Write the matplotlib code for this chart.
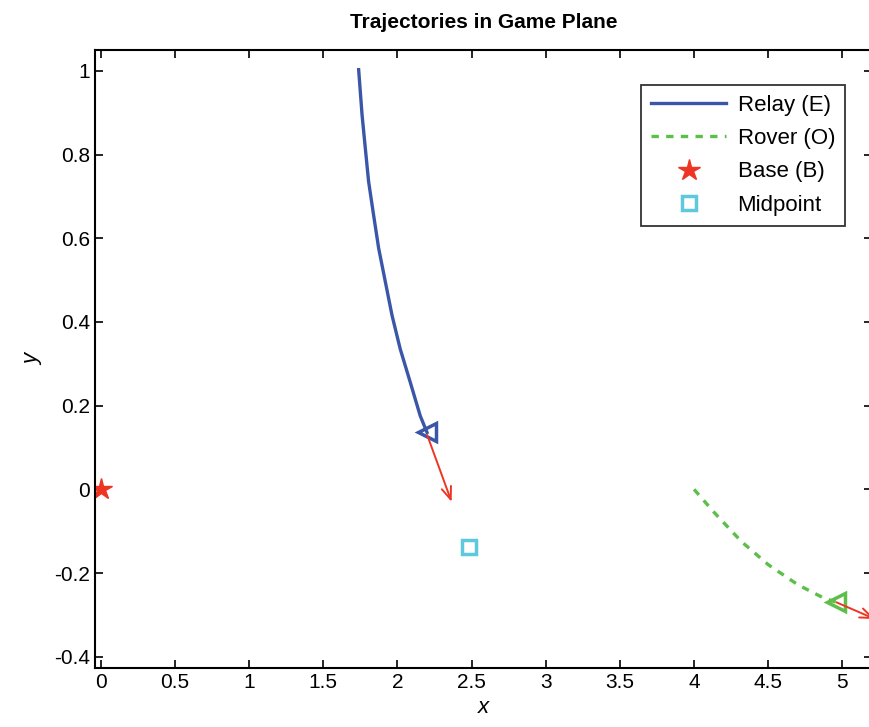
import numpy as np
import matplotlib.pyplot as plt

# datos
relay_x = [1.738, 1.761, 1.783, 1.805, 1.839, 1.873, 1.918, 1.963, 2.018, 2.086, 2.153, 2.199]
relay_y = [1.003, 0.895, 0.815, 0.736, 0.655, 0.576, 0.496, 0.416, 0.336, 0.256, 0.176, 0.136]

rover_x = [4.00, 4.135, 4.32, 4.50, 4.70, 4.87, 4.96]
rover_y = [0.00, -0.055, -0.125, -0.18, -0.228, -0.259, -0.27]

# flechas de velocidad (inicio -> fin)
relay_arrow = [2.20, 0.13, 2.365, -0.03]
rover_arrow = [4.96, -0.27, 5.22, -0.31]

base_xy = [0.0, 0.0]
mid_xy = [2.48, -0.137]

c_relay = "#3a56a8"
c_rover = "#5cbf4a"
c_red = "#ee3524"
c_mid = "#5ec9dc"

plt.rcParams["font.family"] = ["Liberation Sans Narrow", "Liberation Sans", "DejaVu Sans"]

fig = plt.figure(figsize=(8.69, 7.27), dpi=100)
ax = fig.add_axes([95 / 869, 1 - 668 / 727, 777 / 869, 618 / 727])

ax.plot(relay_x, relay_y, color=c_relay, lw=2.4, label="Relay (E)")
ax.plot(rover_x, rover_y, color=c_rover, lw=2.4, ls=(0, (2.2, 2.2)), label="Rover (O)")
ax.plot(base_xy[0], base_xy[1], ls="none", marker="*", ms=16, color=c_red, label="Base (B)")
ax.plot(mid_xy[0], mid_xy[1], ls="none", marker="s", ms=10, mfc="none", mec=c_mid, mew=2.5,
        label="Midpoint")

# triangulos al final de cada trayectoria
ax.plot(relay_x[-1], relay_y[-1], marker="<", ms=13, mfc="none", mec=c_relay, mew=2.5)
ax.plot(rover_x[-1], rover_y[-1], marker="<", ms=13, mfc="none", mec=c_rover, mew=2.5)

for a in (relay_arrow, rover_arrow):
    ax.annotate("", xy=(a[2], a[3]), xytext=(a[0], a[1]),
                arrowprops=dict(arrowstyle="->,head_length=0.9,head_width=0.35",
                                color=c_red, lw=1.4, shrinkA=0, shrinkB=0),
                annotation_clip=False)

ax.set_xlim(-0.04, 5.2)
ax.set_ylim(-0.427, 1.05)
ax.set_xticks(np.arange(0, 5.01, 0.5))
ax.set_xticklabels(["0", "0.5", "1", "1.5", "2", "2.5", "3", "3.5", "4", "4.5", "5"])
ax.set_yticks([-0.4, -0.2, 0, 0.2, 0.4, 0.6, 0.8, 1])
ax.set_yticklabels(["-0.4", "-0.2", "0", "0.2", "0.4", "0.6", "0.8", "1"])
ax.tick_params(direction="in", top=True, right=True, length=6, width=1.2, labelsize=15)
for s in ax.spines.values():
    s.set_linewidth(1.5)

ax.set_xlabel("x", fontsize=16, style="italic", labelpad=4)
ax.set_ylabel("y", fontsize=16, style="italic", labelpad=8)
ax.set_title("Trajectories in Game Plane", fontsize=15, fontweight="bold", pad=16)

leg = ax.legend(loc="upper right", fontsize=16, frameon=True, fancybox=False,
                edgecolor="black", handlelength=3.4, borderpad=0.45, labelspacing=0.55,
                handletextpad=0.5, borderaxespad=0)
leg.get_frame().set_linewidth(1.3)
# colocar leyenda en pixeles de la figura
leg.set_bbox_to_anchor((845 / 869, 1 - 85 / 727), transform=fig.transFigure)

fig.savefig("out.png", dpi=100)
